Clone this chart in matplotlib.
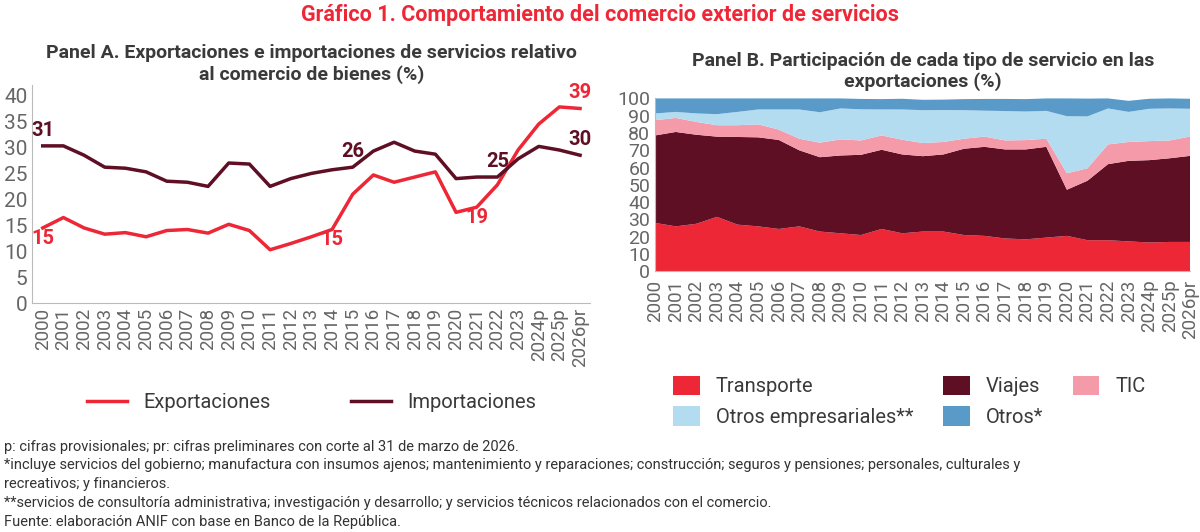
import matplotlib
matplotlib.use("Agg")
import matplotlib.pyplot as plt
import numpy as np

plt.rcParams["font.family"] = ["Roboto", "DejaVu Sans"]

years = [str(y) for y in range(2000, 2024)] + ["2024p", "2025p", "2026pr"]

exportaciones = [14.5, 16.5, 14.5, 13.3, 13.6, 12.8, 14.0, 14.2, 13.5, 15.2, 14.0, 10.3, 11.5, 12.8,
                 14.2, 21.0, 24.7, 23.3, 24.3, 25.3, 17.5, 18.5, 22.8, 29.5, 34.5, 37.8, 37.5]
importaciones = [30.3, 30.3, 28.5, 26.2, 26.0, 25.3, 23.5, 23.3, 22.5, 27.0, 26.8, 22.5, 24.0, 25.0,
                 25.7, 26.2, 29.3, 31.0, 29.3, 28.7, 24.0, 24.3, 24.3, 27.8, 30.2, 29.5, 28.5]
# (index, label) of the annotated points, as printed in the reference
etiquetas_exp = [(0, "15"), (14, "15"), (21, "19"), (26, "39")]
etiquetas_imp = [(0, "31"), (15, "26"), (22, "25"), (26, "30")]

transporte = [28, 26, 27.5, 31.5, 27, 26, 24.5, 26, 23, 22, 21, 24.5, 22, 23, 23, 21, 20.5, 19, 18.5,
              19.5, 20.5, 18, 18, 17.3, 16.7, 17, 17]
viajes = [50.6, 54.6, 51.5, 46.4, 50.7, 51.5, 51.5, 44, 43, 45, 46.4, 45.8, 45.6, 43.6, 44.6, 49.9,
          51.5, 51.5, 52, 52.5, 26.7, 34.4, 44, 46.6, 47.6, 48.4, 49.8]
tic = [8.8, 8.1, 7.4, 6.6, 6.8, 7.5, 6, 6.7, 8.4, 9.3, 8.3, 8.3, 8.5, 7.6, 7.2, 5.8, 5.9, 5.2, 5.4,
       4.7, 9.5, 7.2, 11.4, 10.9, 11, 10.3, 11.2]
otros_emp = [3.9, 3.5, 4.9, 6.4, 7.7, 8.6, 11.6, 16.9, 17.6, 17.9, 18, 15, 17.5, 19, 18.5, 16.5, 15,
             17, 16.5, 16.1, 33, 30, 20.8, 17.4, 18.7, 18.5, 16]
otros = [8.7, 7.8, 8.7, 9.1, 7.8, 6.4, 6.4, 6.4, 8, 5.8, 6, 6, 6.2, 6, 6, 6.4, 6.8, 7, 7.2, 7.2,
         10.3, 10.3, 5.8, 6.4, 5.8, 5.8, 5.8]

RED = "#ee2737"
WINE = "#5e0f24"
PINK = "#f59aa8"
LIGHTBLUE = "#b3dcf1"
BLUE = "#5a9ac9"
GREY = "#666666"
TXT = "#3a3a3a"

fig = plt.figure(figsize=(12, 5.32), dpi=100)
fig.text(0.5, 0.972, "Gráfico 1. Comportamiento del comercio exterior de servicios",
         ha="center", va="center", color=RED, fontsize=15.5, fontweight="bold")

# Panel A
ax1 = fig.add_axes([0.027, 0.43, 0.465, 0.41])
x = np.arange(len(years))
ax1.plot(x, exportaciones, color=RED, lw=2.5, label="Exportaciones")
ax1.plot(x, importaciones, color=WINE, lw=2.5, label="Importaciones")
ax1.set_ylim(0, 42)
ax1.set_yticks(range(0, 41, 5))
ax1.set_xlim(-0.5, len(years) - 0.5)
ax1.set_xticks(x)
ax1.set_xticklabels(years, rotation=90, fontsize=13.5, color=GREY)
ax1.tick_params(axis="y", labelsize=15, colors=GREY, length=0)
ax1.tick_params(axis="x", length=0)
for s in ["top", "right"]:
    ax1.spines[s].set_visible(False)
ax1.spines["left"].set_color("#bbbbbb")
ax1.spines["bottom"].set_color("#bbbbbb")
ax1.set_title("Panel A. Exportaciones e importaciones de servicios relativo\nal comercio de bienes (%)",
              fontsize=14, fontweight="bold", color=TXT, pad=4)
for i, lab in etiquetas_exp:
    dy = 1.2 if i == 26 else -3.8
    ax1.text(i, exportaciones[i] + dy, lab, color=RED, fontsize=14.5, fontweight="bold",
             ha="center", va="bottom")
for i, lab in etiquetas_imp:
    ax1.text(i, importaciones[i] + 1.2, lab, color=WINE, fontsize=14.5, fontweight="bold",
             ha="center", va="bottom")
ax1.legend(loc="upper center", bbox_to_anchor=(0.5, -0.33), ncol=2, frameon=False,
           fontsize=14.5, labelcolor=TXT, handlelength=2, columnspacing=4)

# Panel B
ax2 = fig.add_axes([0.546, 0.49, 0.446, 0.325])
polys = ax2.stackplot(x, transporte, viajes, tic, otros_emp, otros,
                      colors=[RED, WINE, PINK, LIGHTBLUE, BLUE])
ax2.set_ylim(0, 100)
ax2.set_xlim(0, len(years) - 1)
ax2.set_yticks(range(0, 101, 10))
ax2.set_xticks(x)
ax2.set_xticklabels(years, rotation=90, fontsize=13.5, color=GREY)
ax2.tick_params(axis="y", labelsize=14, colors=GREY, length=0)
ax2.tick_params(axis="x", length=0, pad=6)
for s in ["top", "right"]:
    ax2.spines[s].set_visible(False)
ax2.spines["left"].set_color("#bbbbbb")
ax2.spines["bottom"].set_color("#bbbbbb")
ax2.set_title("Panel B. Participación de cada tipo de servicio en las\nexportaciones (%)",
              fontsize=14, fontweight="bold", color=TXT, pad=8)
nombres = ["Transporte", "Viajes", "TIC", "Otros empresariales**", "Otros*"]
orden = [0, 3, 1, 4, 2]
ax2.legend([polys[k] for k in orden], [nombres[k] for k in orden],
           loc="upper left", bbox_to_anchor=(0.0, -0.5), ncol=3, frameon=False,
           fontsize=14.5, labelcolor=TXT, handlelength=1.3, columnspacing=1.5,
           handleheight=1.1, labelspacing=0.5)

notes = ("p: cifras provisionales; pr: cifras preliminares con corte al 31 de marzo de 2026.\n"
         "*incluye servicios del gobierno; manufactura con insumos ajenos; mantenimiento y reparaciones; construcción; seguros y pensiones; personales, culturales y\n"
         "recreativos; y financieros.\n"
         "**servicios de consultoría administrativa; investigación y desarrollo; y servicios técnicos relacionados con el comercio.\n"
         "Fuente: elaboración ANIF con base en Banco de la República.")
fig.text(0.003, 0.005, notes, ha="left", va="bottom", fontsize=10.5, color="#333333", linespacing=1.45)

fig.savefig("out.png", dpi=100)
